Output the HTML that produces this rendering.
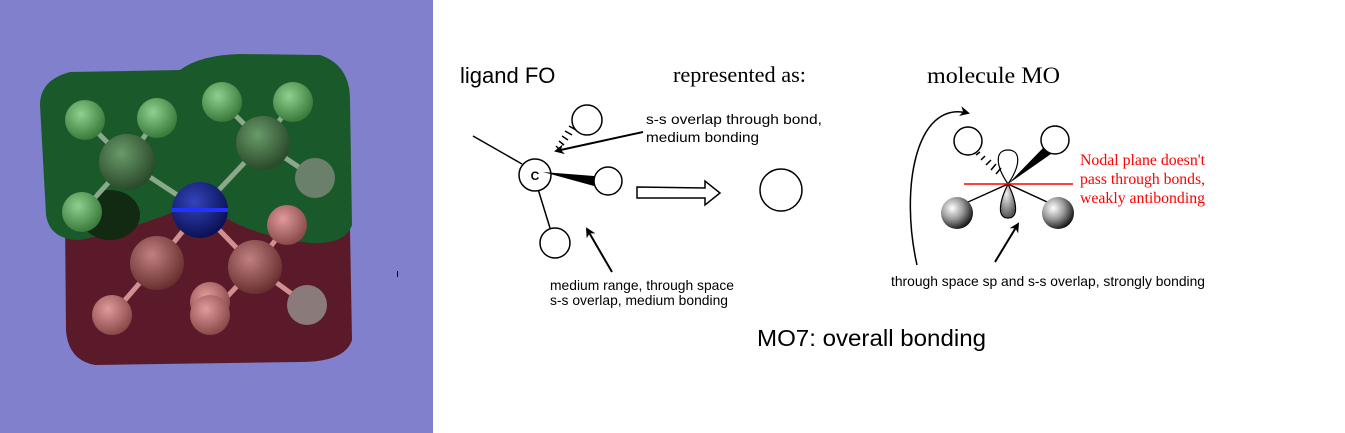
<!DOCTYPE html>
<html><head><meta charset="utf-8"><style>
html,body{margin:0;padding:0;background:#fff;width:1345px;height:433px;overflow:hidden}
svg{display:block}
</style></head><body>
<svg width="1345" height="433" viewBox="0 0 1345 433" xmlns="http://www.w3.org/2000/svg">
<defs>
<radialGradient id="gs" cx="35%" cy="35%" r="70%"><stop offset="0" stop-color="#fff"/><stop offset="0.5" stop-color="#999"/><stop offset="1" stop-color="#111"/></radialGradient>
<radialGradient id="gl" cx="40%" cy="30%" r="70%"><stop offset="0" stop-color="#eee"/><stop offset="1" stop-color="#555"/></radialGradient>
<radialGradient id="hg" cx="40%" cy="35%" r="65%"><stop offset="0" stop-color="#8fd08f"/><stop offset="1" stop-color="#3a7a3a"/></radialGradient>
<radialGradient id="cg" cx="40%" cy="35%" r="65%"><stop offset="0" stop-color="#6a9a6a"/><stop offset="1" stop-color="#2a4a2a"/></radialGradient>
<radialGradient id="hr" cx="40%" cy="35%" r="65%"><stop offset="0" stop-color="#e09a9a"/><stop offset="1" stop-color="#8a4a4a"/></radialGradient>
<radialGradient id="cr" cx="40%" cy="35%" r="65%"><stop offset="0" stop-color="#c08080"/><stop offset="1" stop-color="#6a3030"/></radialGradient>
<radialGradient id="ng" cx="40%" cy="35%" r="65%"><stop offset="0" stop-color="#3344bb"/><stop offset="1" stop-color="#0a1255"/></radialGradient>
<marker id="ah" markerWidth="10" markerHeight="10" refX="8" refY="5" orient="auto" markerUnits="userSpaceOnUse"><path d="M0,0 L10,5 L0,10 L3,5 Z" fill="#000"/></marker>
</defs>
<rect x="0" y="0" width="433" height="433" fill="#8080cc"/>
<path d="M65,215 Q60,200 75,195 L330,196 Q350,200 350,230 L352,340 Q345,362 300,362 L95,365 Q68,360 66,330 Z" fill="#5a1a2a"/>
<path d="M40,105 Q40,80 70,72 L180,70 Q200,55 240,54 L320,55 Q350,65 350,100 L352,225 Q345,245 310,243 Q240,235 200,200 Q150,225 80,240 Q50,240 46,215 Z" fill="#1a5a2a"/>
<ellipse cx="110" cy="215" rx="30" ry="25" fill="#112a11"/>
<g stroke-width="5" stroke-linecap="round">
<line x1="127" y1="162" x2="200" y2="210" stroke="#8aa88a"/><line x1="263" y1="143" x2="200" y2="210" stroke="#8aa88a"/>
<line x1="157" y1="263" x2="200" y2="210" stroke="#d09090"/><line x1="255" y1="267" x2="200" y2="210" stroke="#d09090"/>
<line x1="127" y1="162" x2="85" y2="120" stroke="#8aa88a"/><line x1="127" y1="162" x2="157" y2="118" stroke="#8aa88a"/><line x1="127" y1="162" x2="82" y2="212" stroke="#8aa88a"/>
<line x1="263" y1="143" x2="222" y2="102" stroke="#8aa88a"/><line x1="263" y1="143" x2="293" y2="102" stroke="#8aa88a"/><line x1="263" y1="143" x2="315" y2="178" stroke="#8aa88a"/>
<line x1="157" y1="263" x2="112" y2="315" stroke="#d09090"/><line x1="255" y1="267" x2="210" y2="315" stroke="#d09090"/><line x1="255" y1="267" x2="307" y2="305" stroke="#d09090"/><line x1="255" y1="267" x2="287" y2="225" stroke="#d09090"/>
</g>
<circle cx="85" cy="120" r="20" fill="url(#hg)"/><circle cx="157" cy="118" r="20" fill="url(#hg)"/><circle cx="222" cy="102" r="20" fill="url(#hg)"/><circle cx="293" cy="102" r="20" fill="url(#hg)"/><circle cx="315" cy="178" r="20" fill="#6a806a"/><circle cx="82" cy="212" r="20" fill="url(#hg)"/>
<circle cx="127" cy="162" r="28" fill="url(#cg)"/><circle cx="263" cy="143" r="27" fill="url(#cg)"/>
<circle cx="200" cy="210" r="28" fill="url(#ng)"/>
<rect x="172" y="208" width="56" height="4" fill="#2233ff"/>
<circle cx="287" cy="225" r="20" fill="url(#hr)"/><circle cx="112" cy="315" r="20" fill="url(#hr)"/><circle cx="210" cy="302" r="20" fill="url(#hr)"/><circle cx="210" cy="315" r="20" fill="url(#hr)"/><circle cx="307" cy="305" r="20" fill="#8a7a7a"/>
<circle cx="157" cy="263" r="27" fill="url(#cr)"/><circle cx="255" cy="267" r="27" fill="url(#cr)"/>
<rect x="397" y="271" width="1" height="6" fill="#000"/>
<g font-family="Liberation Sans, sans-serif" fill="#000">
<text x="460" y="83" font-size="22">ligand FO</text>
<text x="646" y="124" font-size="14" textLength="176" lengthAdjust="spacingAndGlyphs">s-s overlap through bond,</text>
<text x="646" y="142" font-size="14" textLength="113" lengthAdjust="spacingAndGlyphs">medium bonding</text>
<text x="550" y="290" font-size="14" textLength="184" lengthAdjust="spacingAndGlyphs">medium range, through space</text>
<text x="550" y="305" font-size="14" textLength="178" lengthAdjust="spacingAndGlyphs">s-s overlap, medium bonding</text>
<text x="891" y="286" font-size="14" textLength="314" lengthAdjust="spacingAndGlyphs">through space sp and s-s overlap, strongly bonding</text>
<text x="757" y="346" font-size="23" textLength="229" lengthAdjust="spacingAndGlyphs">MO7: overall bonding</text>
</g>
<g font-family="Liberation Serif, serif">
<text x="673" y="82" font-size="22" textLength="133" lengthAdjust="spacingAndGlyphs">represented as:</text>
<text x="927" y="83" font-size="23" textLength="133" lengthAdjust="spacingAndGlyphs">molecule MO</text>
<g fill="#ff0000" font-size="15.5"><text x="1080" y="165" textLength="125" lengthAdjust="spacingAndGlyphs">Nodal plane doesn't</text><text x="1080" y="184" textLength="125" lengthAdjust="spacingAndGlyphs">pass through bonds,</text><text x="1080" y="203" textLength="125" lengthAdjust="spacingAndGlyphs">weakly antibonding</text></g>
</g>
<g stroke="#000" stroke-width="1.5" fill="none">
<line x1="473" y1="136" x2="522" y2="164"/>
<line x1="538" y1="189" x2="550" y2="228"/>
<circle cx="535" cy="175" r="16" fill="#fff"/>
<circle cx="587" cy="120" r="15"/><circle cx="608" cy="181" r="14"/><circle cx="555" cy="243" r="15"/>
<circle cx="781" cy="190" r="21"/>
<line x1="643" y1="132" x2="556" y2="151" marker-end="url(#ah)" stroke-width="2"/>
<line x1="612" y1="272" x2="587" y2="229" marker-end="url(#ah)" stroke-width="2"/>
<path d="M637,187 L705,188 L705,181 L720,193 L705,205 L705,198 L637,198 Z"/>
</g>
<text x="535" y="180" font-family="Liberation Sans, sans-serif" font-size="12" font-weight="bold" text-anchor="middle">C</text>
<path d="M543,172 L594,176 L594,186 Z" fill="#000"/>
<g stroke="#000" stroke-width="1.5"><line x1="560" y1="150" x2="556" y2="146"/><line x1="564" y1="145" x2="559" y2="141"/><line x1="568" y1="140" x2="562" y2="136"/><line x1="572" y1="135" x2="565" y2="131"/><line x1="576" y1="130" x2="569" y2="126"/></g>
<path d="M1008,184 C995,165 995,150 1008,150 C1021,150 1021,165 1008,184 Z" fill="#fff" stroke="#000" stroke-width="1.2"/>
<path d="M1008,184 C1000,200 996,218 1008,218 C1020,218 1016,200 1008,184 Z" fill="url(#gl)" stroke="#000" stroke-width="1.2"/>
<g stroke="#000" stroke-width="1.5">
<line x1="1008" y1="184" x2="957" y2="207"/><line x1="1008" y1="184" x2="1058" y2="207"/>
<line x1="976" y1="155" x2="980" y2="152"/><line x1="981" y1="160" x2="985" y2="156"/><line x1="986" y1="165" x2="991" y2="160"/><line x1="991" y1="170" x2="996" y2="164"/><line x1="996" y1="174" x2="1001" y2="168"/>
</g>
<path d="M1008,184 L1044,147 L1051,154 Z" fill="#000"/>
<circle cx="968" cy="141" r="14" fill="#fff" stroke="#000" stroke-width="1.5"/>
<circle cx="1055" cy="140" r="14" fill="#fff" stroke="#000" stroke-width="1.5"/>
<circle cx="957" cy="213" r="16" fill="url(#gs)"/><circle cx="1058" cy="213" r="16" fill="url(#gs)"/>
<line x1="964" y1="184" x2="1073" y2="184" stroke="#ff0000" stroke-width="1.5"/>
<line x1="995" y1="262" x2="1018" y2="224" stroke="#000" stroke-width="2" marker-end="url(#ah)"/>
<path d="M917,265 C900,190 915,100 968,113" stroke="#000" stroke-width="1.5" fill="none" marker-end="url(#ah)"/>
</svg>
</body></html>
